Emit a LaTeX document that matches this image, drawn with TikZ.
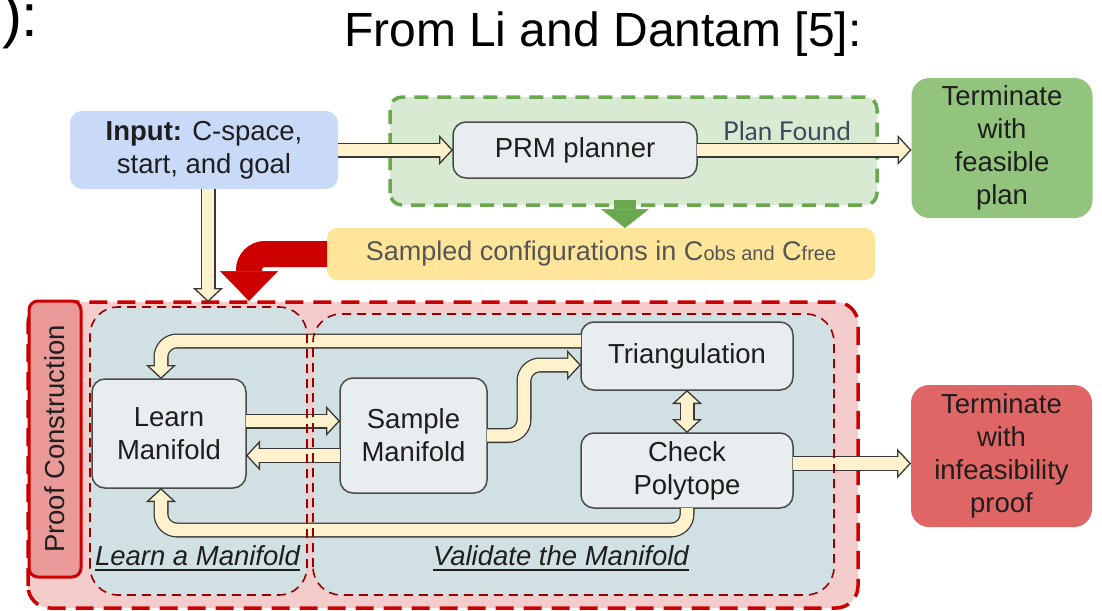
\documentclass[tikz,border=0pt]{standalone}
\usepackage{fontspec}
\setmainfont{Liberation Sans}
\newfontfamily\latofont{Lato}
\usetikzlibrary{arrows.meta,calc}

\definecolor{inblue}{HTML}{C9DAF8}
\definecolor{grnfill}{HTML}{D9EAD3}
\definecolor{grnline}{HTML}{6AA84F}
\definecolor{grnterm}{HTML}{93C47D}
\definecolor{yelfill}{HTML}{FFE599}
\definecolor{redfill}{HTML}{F4CCCC}
\definecolor{redline}{HTML}{CC0000}
\definecolor{redlabel}{HTML}{EA9999}
\definecolor{redterm}{HTML}{E06666}
\definecolor{regfill}{HTML}{D0E0E3}
\definecolor{regline}{HTML}{990000}
\definecolor{stepfill}{HTML}{E8EDEF}
\definecolor{stepline}{HTML}{4A4A4A}
\definecolor{cream}{HTML}{FFF2CC}
\definecolor{graytext}{HTML}{555555}
\definecolor{labeltext}{HTML}{3D4A5C}
\definecolor{inktext}{HTML}{1E1E1E}

\newcommand\boxfont{\fontsize{27.5pt}{33pt}\selectfont}

\begin{document}
\begin{tikzpicture}[x=1pt,y=-1pt,
  every node/.style={outer sep=0pt},
  stepbox/.style={draw=stepline, line width=1.5pt, fill=stepfill, rounded corners=13pt,
    align=center, font=\boxfont, text=inktext, inner sep=2pt},
  termbox/.style={rounded corners=18pt, align=center, font=\boxfont, text=inktext, inner sep=0pt},
  regionbg/.style={fill=regfill, rounded corners=28pt, inner sep=0pt},
  regionline/.style={draw=regline, line width=1.6pt, dash pattern=on 9pt off 6pt, rounded corners=28pt},
  hollow/.style={draw=black!78, line width=15pt, rounded corners=16pt,
    -{Triangle[length=14pt,width=30pt,fill=cream,line width=1.3pt]},
    postaction={draw=cream, line width=12.4pt, arrows=-, shorten >=11pt}},
  hollowboth/.style={draw=black!78, line width=15pt,
    {Triangle[length=14pt,width=30pt,fill=cream,line width=1.3pt]}-{Triangle[length=14pt,width=30pt,fill=cream,line width=1.3pt]},
    postaction={draw=cream, line width=12.4pt, arrows=-, shorten >=11pt, shorten <=11pt}},
  redflow/.style={draw=redline, line width=26pt, rounded corners=16pt,
    -{Triangle[length=30pt,width=58pt,line width=0.5pt]}},
  greenflow/.style={draw=grnline, line width=22pt,
    -{Triangle[length=19pt,width=48pt,line width=0.5pt]}},
]
\useasboundingbox (0,0) rectangle (1102,610);
\fill[white] (0,0) rectangle (1102,610);

% headings
\node[anchor=base west, inner sep=0pt, font=\fontsize{60pt}{60pt}\selectfont] (prev) at (2,37) {):};
\node[anchor=base west, inner sep=0pt, font=\fontsize{48pt}{48pt}\selectfont] (title) at (344,47) {From Li and Dantam [5]:};

% containers (backgrounds)
\node[fill=grnfill, rounded corners=12pt, minimum width=487pt, minimum height=108pt] (grn) at (633.5,151) {};
\draw[draw=grnline, line width=3.5pt, dash pattern=on 14pt off 9pt, rounded corners=12pt]
  (grn.south west) rectangle (grn.north east);
\node[fill=redfill, rounded corners=22pt, minimum width=830pt, minimum height=306pt] (outer) at (443,455) {};
\node[regionbg, minimum width=217pt, minimum height=288pt] (learnreg) at (198.5,451) {};
\node[regionbg, minimum width=521pt, minimum height=281pt] (valreg) at (573.5,454.5) {};
\draw[draw=redline, line width=3.5pt, dash pattern=on 18pt off 10pt, rounded corners=22pt]
  (outer.south west) rectangle (outer.north east);

% side label
\node[rotate=90, draw=redline, line width=3pt, fill=redlabel, rounded corners=9pt,
  minimum width=276pt, minimum height=52pt, font=\boxfont, text=inktext] (proof) at (55,439) {Proof Construction};

% planner row
\node[fill=inblue, rounded corners=12pt, minimum width=268pt, minimum height=78pt,
  align=center, font=\boxfont, text=inktext, inner sep=0pt] (input) at (204,150)
  {\textbf{Input:} C-space,\\start, and goal};
\node[stepbox, minimum width=244pt, minimum height=56pt] (prm) at (575,150) {PRM planner};
\node[termbox, fill=grnterm, minimum width=181pt, minimum height=140pt] (feas) at (1002,148)
  {Terminate\\with\\feasible\\plan};
\node[anchor=base, inner sep=0pt, font=\latofont\fontsize{26pt}{26pt}\selectfont, text=labeltext] (found) at (787,140) {Plan Found};
\node[fill=yelfill, rounded corners=10pt, minimum width=548pt, minimum height=52pt,
  font=\fontsize{27pt}{27pt}\selectfont, text=graytext, inner sep=0pt] (samp) at (601,254)
  {Sampled configurations in C{\fontsize{20pt}{20pt}\selectfont obs and} C{\fontsize{20pt}{20pt}\selectfont free}};

% proof construction steps
\node[stepbox, minimum width=154pt, minimum height=109pt] (learn) at (169,433.5) {Learn\\Manifold};
\node[stepbox, minimum width=147pt, minimum height=115pt] (sample) at (413.5,435.5) {Sample\\Manifold};
\node[stepbox, minimum width=212pt, minimum height=68pt] (triang) at (687,356) {Triangulation};
\node[stepbox, minimum width=212pt, minimum height=75pt] (check) at (687,470.5) {Check\\Polytope};
\node[termbox, fill=redterm, minimum width=181pt, minimum height=142pt] (infeas) at (1001.5,456)
  {Terminate\\with\\infeasibility\\proof};

% region captions
\node[anchor=base west, inner sep=0pt, font=\boxfont\itshape, text=inktext] (lam) at (95,565) {Learn a Manifold};
\node[anchor=base west, inner sep=0pt, font=\boxfont\itshape, text=inktext] (vtm) at (433,565) {Validate the Manifold};
\draw[line width=1.6pt, draw=inktext] ([yshift=-5pt]lam.base west) -- ([yshift=-5pt]lam.base east);
\draw[line width=1.6pt, draw=inktext] ([yshift=-5pt]vtm.base west) -- ([yshift=-5pt]vtm.base east);

% flows
\coordinate (redtip) at (249,301);
\draw[greenflow] ([xshift=-8.5pt,yshift=5pt]grn.south) -- ([xshift=-8.5pt]grn.south |- samp.north);
\draw[redflow] (samp.west) -| (redtip);
\draw[hollow] (input.east) -- (prm.west);
\draw[hollow] (prm.east) -- (prm.east -| feas.west);
\draw[hollow] ([xshift=4pt]input.south) -- ([xshift=4pt]input.south |- outer.north);
\draw[hollow] ([yshift=12.5pt]learn.east) -- ([yshift=12.5pt]learn.east -| sample.west);
\draw[hollow] ([yshift=-20pt]sample.west) -- ([yshift=-20pt]sample.west -| learn.east);
\draw[hollow] (sample.east) -- ++(37,0) |- ([yshift=-9pt]triang.west);
\draw[hollow] ([yshift=15pt]triang.west) -| ([xshift=-8pt]learn.north);
\draw[hollow] (check.south) -- ++(0,22) -| ([xshift=-8pt]learn.south);
\draw[hollowboth] (triang.south) -- (check.north);
\draw[hollow] ([yshift=7pt]check.east) -- ([yshift=7pt]check.east -| infeas.west);

% region outlines on top
\draw[regionline] (learnreg.south west) rectangle (learnreg.north east);
\draw[regionline] (valreg.south west) rectangle (valreg.north east);
\end{tikzpicture}
\end{document}
